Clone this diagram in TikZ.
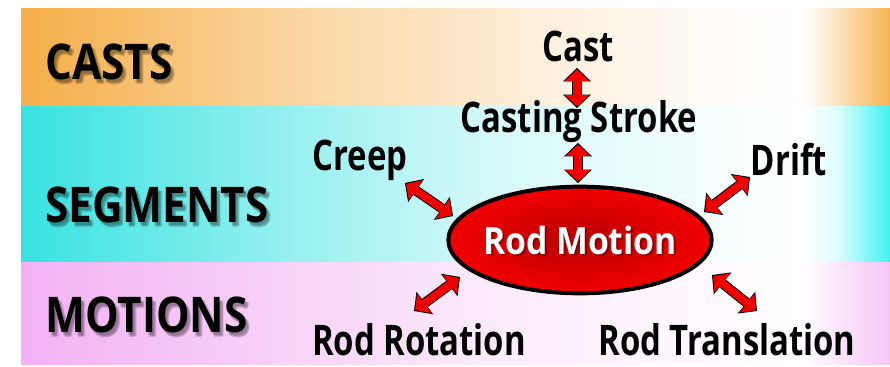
\documentclass[tikz,border=0pt]{standalone}
\usepackage{graphicx}
\usepackage{fontspec}
\setmainfont{Open Sans}
\usetikzlibrary{shapes.geometric,arrows.meta}
\definecolor{oraL}{HTML}{F5AE48}
\definecolor{ora1}{HTML}{FAD6A2}
\definecolor{ora2}{HTML}{FEEFDC}
\definecolor{ora3}{HTML}{FFFAF5}
\definecolor{ora4}{HTML}{FCE3C0}
\definecolor{oraR}{HTML}{F7B24F}
\definecolor{cyaL}{HTML}{38E2E2}
\definecolor{cya1}{HTML}{9AF0F0}
\definecolor{cya2}{HTML}{D5F9F9}
\definecolor{cya3}{HTML}{F3FEFE}
\definecolor{cya4}{HTML}{DDFDFD}
\definecolor{cyaR}{HTML}{40F2F2}
\definecolor{pnkL}{HTML}{F3B1F4}
\definecolor{pnk1}{HTML}{F8D4F8}
\definecolor{pnk2}{HTML}{FCEBFC}
\definecolor{pnk3}{HTML}{FFF8FF}
\definecolor{pnk4}{HTML}{FBE6FB}
\definecolor{pnkR}{HTML}{F6C6F6}
\definecolor{rodred}{HTML}{F20000}
\pgfdeclarehorizontalshading{orangeband}{100bp}{color(0bp)=(oraL); color(25bp)=(oraL); color(41bp)=(ora1); color(55bp)=(ora2); color(64bp)=(ora3); color(70bp)=(white); color(72bp)=(ora4); color(75bp)=(oraR); color(100bp)=(oraR)}
\pgfdeclarehorizontalshading{cyanband}{100bp}{color(0bp)=(cyaL); color(25bp)=(cyaL); color(41bp)=(cya1); color(52bp)=(cya2); color(64bp)=(cya3); color(70bp)=(white); color(72bp)=(cya4); color(75bp)=(cyaR); color(100bp)=(cyaR)}
\pgfdeclarehorizontalshading{pinkband}{100bp}{color(0bp)=(pnkL); color(25bp)=(pnkL); color(41bp)=(pnk1); color(52bp)=(pnk2); color(64bp)=(pnk3); color(70bp)=(white); color(72bp)=(pnk4); color(75bp)=(pnkR); color(100bp)=(pnkR)}
\newcommand\cond[1]{\scalebox{0.78}[1]{#1}}
\newcommand\catcond[1]{\scalebox{0.86}[1]{#1}}
\newcommand\rmcond[1]{\scalebox{0.9}[1]{#1}}
\tikzset{
  lbl/.style={font=\fontsize{36}{40}\selectfont\bfseries, text=black, inner sep=0pt},
  cat/.style={font=\fontsize{42}{46}\selectfont\bfseries, text=black, inner sep=0pt, anchor=west},
  catshadow/.style={cat, text=black, text opacity=0.15},
  arrblack/.style={draw=black, line width=8.5pt,
    {Triangle[length=11.5pt,width=24pt,line width=0pt]}-{Triangle[length=11.5pt,width=24pt,line width=0pt]}},
  arrred/.style={draw=rodred, line width=6.8pt, shorten <=1.3pt, shorten >=1.3pt,
    {Triangle[length=9.6pt,width=20.5pt,line width=0pt]}-{Triangle[length=9.6pt,width=20.5pt,line width=0pt]}},
}
\newcommand\dblarrow[2]{\draw[arrblack] (#1) -- (#2); \draw[arrred] (#1) -- (#2);}
\begin{document}
\begin{tikzpicture}[x=0.03cm, y=-0.03cm]
\useasboundingbox (0,0) rectangle (890,367);
\fill[white] (0,0) rectangle (890,367);
% bands
\shade[shading=orangeband] (21,9) rectangle (890,107);
\shade[shading=cyanband] (21,107) rectangle (890,262);
\shade[shading=pinkband] (21,262) rectangle (890,364);
% category labels (soft shadow + text)
\foreach \dx/\dy in {2/3,4/4,3/5}{
  \node[catshadow] at (45+\dx,62+\dy) {\catcond{CASTS}};
  \node[catshadow] at (45+\dx,205+\dy) {\catcond{SEGMENTS}};
  \node[catshadow] at (45+\dx,315+\dy) {\catcond{MOTIONS}};
}
\node[cat] (casts) at (45,62) {\catcond{CASTS}};
\node[cat] (segments) at (45,205) {\catcond{SEGMENTS}};
\node[cat] (motions) at (45,315) {\catcond{MOTIONS}};
% nodes
\node[lbl] (cast) at (578,46) {\cond{Cast}};
\node[lbl] (stroke) at (579,122) {\cond{Casting Stroke}};
\node[lbl] (creep) at (360,160) {\cond{Creep}};
\node[lbl] (drift) at (789,160) {\cond{Drift}};
\node[lbl] (rot) at (419,340) {\cond{Rod Rotation}};
\node[lbl] (trans) at (727,340) {\cond{Rod Translation}};
\node[ellipse, draw=black, line width=3.4pt, minimum width=7.9cm, minimum height=3.2cm,
  inner color=red!72!black, outer color=rodred] (rm) at (580,240) {};
\node[font=\fontsize{32}{36}\selectfont\bfseries, text=red!35!black, text opacity=0.55] at (582,242) {\rmcond{Rod Motion}};
\node[font=\fontsize{32}{36}\selectfont\bfseries, text=white] (rmt) at (580,240) {\rmcond{Rod Motion}};
% arrow end points
\coordinate (a1) at (577,68); \coordinate (a2) at (577,108);
\coordinate (b1) at (578,143); \coordinate (b2) at (578,183);
\coordinate (c1) at (405,183); \coordinate (c2) at (453,216);
\coordinate (d1) at (750,177); \coordinate (d2) at (704,212);
\coordinate (e1) at (460,277); \coordinate (e2) at (414,311);
\coordinate (f1) at (712,275); \coordinate (f2) at (757,311);
\dblarrow{a1}{a2}
\dblarrow{b1}{b2}
\dblarrow{c1}{c2}
\dblarrow{d1}{d2}
\dblarrow{e1}{e2}
\dblarrow{f1}{f2}
\end{tikzpicture}
\end{document}
